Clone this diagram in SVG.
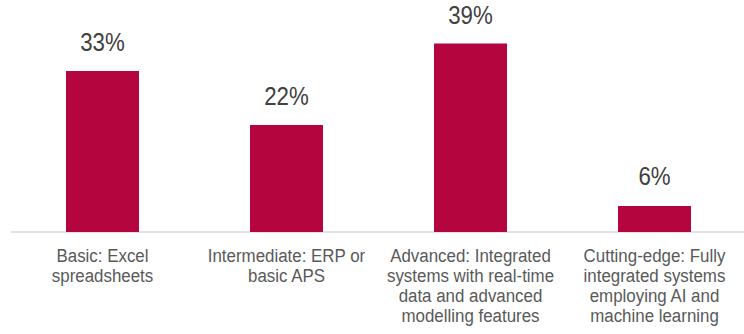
<svg xmlns="http://www.w3.org/2000/svg" width="744" height="334" viewBox="0 0 744 334">
<style>
.bar{fill:#B5053F}
.val{font-family:"Liberation Sans",Arial,sans-serif;font-size:25px;fill:#404040;text-anchor:middle}
.cat{font-family:"Liberation Sans",Arial,sans-serif;font-size:19px;fill:#595959;text-anchor:middle}
.axis{stroke:#D9D9D9;stroke-width:1.5;fill:none}
</style>
<rect width="744" height="334" fill="#FFFFFF"/>
<g id="connectors">
<line class="axis" x1="11" y1="232" x2="744" y2="232"/>
</g>
<g id="bar-basic">
<rect class="bar" x="66" y="71" width="73" height="161"/>
<g transform="translate(102.5,0) scale(0.89,1)">
<text class="val" x="0" y="51.5">33%</text>
<text class="cat" x="0" y="262.5">Basic: Excel</text>
<text class="cat" x="0" y="282.5">spreadsheets</text>
</g>
</g>
<g id="bar-intermediate">
<rect class="bar" x="250" y="125" width="73" height="107"/>
<g transform="translate(286.5,0) scale(0.89,1)">
<text class="val" x="0" y="105.5">22%</text>
<text class="cat" x="0" y="262.5">Intermediate: ERP or</text>
<text class="cat" x="0" y="282.5">basic APS</text>
</g>
</g>
<g id="bar-advanced">
<rect class="bar" x="434" y="43.5" width="73" height="188.5"/>
<g transform="translate(470.5,0) scale(0.89,1)">
<text class="val" x="0" y="24">39%</text>
<text class="cat" x="0" y="262.5">Advanced: Integrated</text>
<text class="cat" x="0" y="282.5">systems with real-time</text>
<text class="cat" x="0" y="302.5">data and advanced</text>
<text class="cat" x="0" y="322.5">modelling features</text>
</g>
</g>
<g id="bar-cutting-edge">
<rect class="bar" x="618" y="206" width="73" height="26"/>
<g transform="translate(654.5,0) scale(0.89,1)">
<text class="val" x="0" y="185.5">6%</text>
<text class="cat" x="0" y="262.5">Cutting-edge: Fully</text>
<text class="cat" x="0" y="282.5">integrated systems</text>
<text class="cat" x="0" y="302.5">employing AI and</text>
<text class="cat" x="0" y="322.5">machine learning</text>
</g>
</g>
</svg>
